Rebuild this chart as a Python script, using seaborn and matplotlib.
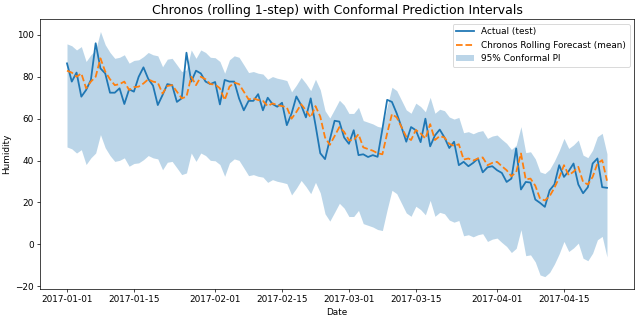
import numpy as np
import pandas as pd
import matplotlib
matplotlib.use("Agg")
import matplotlib.pyplot as plt
import seaborn as sns

start_date = "2017-01-01"
n_days = 114

actual = [86.4, 77.7, 82, 70.5, 73.7, 78.5, 96, 84, 81.6, 72.4,
          72.4, 74.5, 67, 74, 72.9, 80, 84.5, 79, 75.8, 66.5,
          71.3, 76.5, 76, 68, 69.7, 91.5, 77.7, 82.9, 81.6, 77.7,
          76.5, 77.5, 66.8, 78.5, 77.7, 77.7, 69.7, 64, 68.5, 68.5,
          71.7, 64, 70, 67, 65.7, 67.6, 56.9, 62.5, 70.6, 66.5,
          60.6, 69.7, 57, 43.5, 40.7, 50, 59, 58.6, 51, 48,
          54.5, 42.6, 43, 41.7, 42.6, 41.8, 55, 69, 68, 62.5,
          56, 49, 56, 54.5, 48.8, 60, 46.8, 52, 54.8, 51,
          46, 49, 37.8, 39.4, 37.3, 38.9, 41, 34.4, 36.8, 37.3,
          35.4, 34.1, 29.8, 31.4, 45.8, 26.2, 29.8, 29.5, 21.4, 19.8,
          17.9, 25.8, 28.6, 37.8, 32.2, 35, 38.6, 28.6, 24.4, 27.3,
          38.6, 41, 27.3, 27]

forecast = [82.9, 82, 80, 81.6, 74.5, 77.7, 80, 88.8, 82.5, 78.8,
            76, 76.5, 77.7, 73.7, 75, 75.3, 76.8, 78.8, 77.7, 77.2,
            72, 75.6, 76, 72.9, 69.7, 70.5, 80, 76, 80, 78.8,
            76.5, 76.3, 74.5, 68.9, 75.3, 77.2, 76.5, 72.9, 69.2, 69.7,
            68.9, 68.5, 66, 67.3, 66.5, 66, 65.4, 60, 63.2, 66.9,
            64, 60.6, 66, 61, 51, 47.5, 51.7, 56, 53.7, 49.7,
            49.7, 52.6, 46.3, 45.5, 44.7, 43.5, 43, 53, 62.2, 60.6,
            56, 51.4, 49.8, 54.6, 53, 50.5, 57.4, 49.8, 51.7, 51,
            48, 47, 47.8, 40.5, 41, 40, 41, 41.5, 37.8, 38.9,
            39.4, 37.3, 35.4, 32.5, 34.5, 43.4, 31, 31.4, 28, 21.8,
            21, 23, 27, 31.9, 37.8, 33, 34.7, 37, 29.8, 28.6,
            32.2, 38.6, 40.2, 30.4]

pi_upper = [95.7, 94.8, 92.8, 94.4, 87.3, 90.5, 92.8, 101.6, 95.3, 91.6,
            88.8, 89.3, 90.5, 86.5, 87.8, 88.1, 89.6, 91.6, 90.5, 90.0,
            84.8, 88.4, 88.8, 85.7, 82.5, 83.3, 92.8, 88.8, 92.8, 91.6,
            89.3, 89.1, 87.3, 81.7, 88.1, 90.0, 89.3, 85.7, 82.0, 82.5,
            81.7, 81.3, 78.8, 80.1, 79.3, 78.8, 78.2, 72.8, 76.0, 79.7,
            76.8, 73.4, 78.8, 73.8, 63.8, 60.3, 64.5, 68.8, 66.5, 62.5,
            62.5, 65.4, 59.1, 58.3, 57.5, 56.3, 55.8, 65.8, 75.0, 73.4,
            68.8, 64.2, 62.6, 67.4, 65.8, 63.3, 70.2, 62.6, 64.5, 63.8,
            60.8, 59.8, 60.6, 53.3, 53.8, 52.8, 53.8, 54.3, 50.6, 51.7,
            52.2, 50.1, 48.2, 45.3, 47.3, 56.2, 43.8, 44.2, 40.8, 34.6,
            33.8, 35.8, 39.8, 44.7, 50.6, 45.8, 47.5, 49.8, 42.6, 41.4,
            45.0, 51.4, 53.0, 43.2]

pi_lower = [46.5, 45.6, 43.6, 45.2, 38.1, 41.3, 43.6, 52.4, 46.1, 42.4,
            39.6, 40.1, 41.3, 37.3, 38.6, 38.9, 40.4, 42.4, 41.3, 40.8,
            35.6, 39.2, 39.6, 36.5, 33.3, 34.1, 43.6, 39.6, 43.6, 42.4,
            40.1, 39.9, 38.1, 32.5, 38.9, 40.8, 40.1, 36.5, 32.8, 33.3,
            32.5, 32.1, 29.6, 30.9, 30.1, 29.6, 29.0, 23.6, 26.8, 30.5,
            27.6, 24.2, 29.6, 24.6, 14.6, 11.1, 15.3, 19.6, 17.3, 13.3,
            13.3, 16.2, 9.9, 9.1, 8.3, 7.1, 6.6, 16.6, 25.8, 24.2,
            19.6, 15.0, 13.4, 18.2, 16.6, 14.1, 21.0, 13.4, 15.3, 14.6,
            11.6, 10.6, 11.4, 4.1, 4.6, 3.6, 4.6, 5.1, 1.4, 2.5,
            3.0, 0.9, -1.0, -3.9, -1.9, 7.0, -5.4, -5.0, -8.4, -14.6,
            -15.4, -13.4, -9.4, -4.5, 1.4, -3.4, -1.7, 0.6, -6.6, -7.8,
            -4.2, 2.2, 3.8, -6.0]

dates = pd.date_range(start_date, periods=n_days, freq="D")
df = pd.DataFrame({"Date": dates, "actual": actual, "forecast": forecast,
                   "upper": pi_upper, "lower": pi_lower})

DPI = 64.2
fig, ax = plt.subplots(figsize=(10, 5), dpi=DPI)
sns.lineplot(data=df, x="Date", y="actual", ax=ax, color="#1f77b4",
             linewidth=2, label="Actual (test)", zorder=3)
sns.lineplot(data=df, x="Date", y="forecast", ax=ax, color="#ff7f0e",
             linewidth=2, linestyle="--", label="Chronos Rolling Forecast (mean)", zorder=4)
ax.fill_between(df["Date"], df["lower"], df["upper"], color="#1f77b4",
                alpha=0.3, linewidth=0, label="95% Conformal PI", zorder=1)
ax.set_title("Chronos (rolling 1-step) with Conformal Prediction Intervals", fontsize=14)
ax.set_xlabel("Date")
ax.set_ylabel("Humidity")
ax.legend(loc="upper right")
fig.subplots_adjust(left=0.0623, right=0.9875, top=0.94, bottom=0.10)
fig.savefig("out.png", dpi=DPI)
